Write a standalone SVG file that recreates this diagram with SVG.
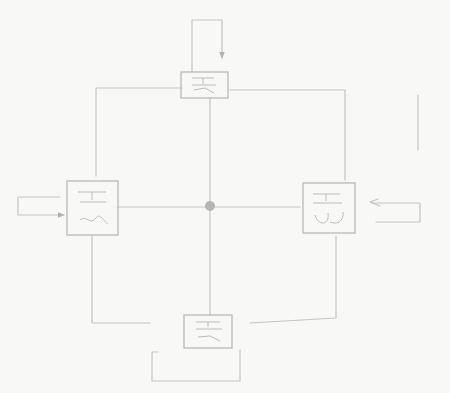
<svg xmlns="http://www.w3.org/2000/svg" width="450" height="393" viewBox="0 0 450 393">
<style>
.s{fill:none;stroke:#c4c4c4;stroke-width:1.2;stroke-linecap:round;stroke-linejoin:round}
.b{fill:none;stroke:#b8b8b8;stroke-width:1.3}
.g{fill:none;stroke:#bcbcbc;stroke-width:1}
</style>
<defs>
<marker id="a" viewBox="0 0 10 10" refX="9" refY="5" markerWidth="6" markerHeight="6" orient="auto"><path d="M0,1 L10,5 L0,9 z" fill="#b0b0b0"/></marker>
</defs>
<rect width="450" height="393" fill="#f8f8f6"/>
<g id="connectors">
<path class="s" d="M192,72 V20 H222 V58" marker-end="url(#a)"/>
<path class="s" d="M210,98 V315"/>
<path class="s" d="M118,207 H300"/>
<path class="s" d="M182,88 H96 V176"/>
<path class="s" d="M230,90 H345 V180"/>
<path class="s" d="M92,236 V323 H150"/>
<path class="s" d="M336,236 V318 L250,323"/>
<path class="s" d="M158,352 H152 V381 H240 V350"/>
<path class="s" d="M60,197 H18 V215 H64" marker-end="url(#a)"/>
<path class="s" d="M372,203 H420 V222 H376"/>
<path class="s" d="M380,206 L370,202 L378,199"/>
<path class="s" d="M418,95 V150"/>
<circle cx="210" cy="206" r="5" fill="#b5b5b5"/>
</g>
<g id="top">
<rect class="b" x="181" y="72" width="47" height="26"/>
<path class="g" d="M192,78 H214 M203,78 V84 M192,85 H216 M194,90 L205,88 L214,93"/>
</g>
<g id="left">
<rect class="b" x="67" y="181" width="51" height="54"/>
<path class="g" d="M78,192 H106 M92,192 V200 M80,202 H106 M80,220 C86,214 90,226 96,218 C100,212 104,222 108,224"/>
</g>
<g id="right">
<rect class="b" x="303" y="183" width="52" height="50"/>
<path class="g" d="M313,194 H340 M326,194 V201 M313,203 H342 M315,215 C318,226 330,226 328,213 M330,222 C340,226 344,218 343,212"/>
</g>
<g id="bottom">
<rect class="b" x="184" y="315" width="48" height="33"/>
<path class="g" d="M196,322 H220 M208,322 V327 M196,329 H222 M198,337 L210,336 L220,341"/>
</g>
</svg>
